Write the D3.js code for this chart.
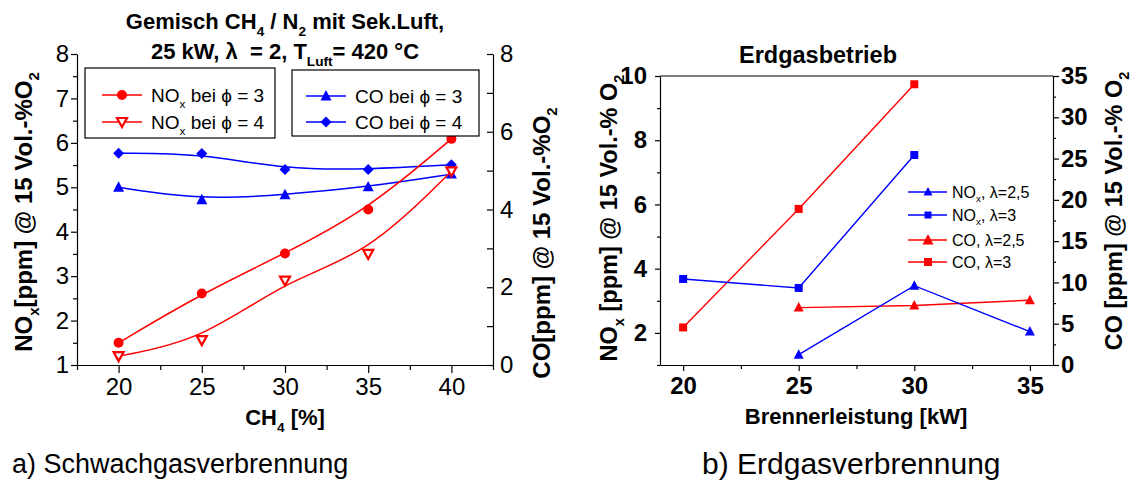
<!DOCTYPE html>
<html>
<head>
<meta charset="utf-8">
<script src="https://cdn.jsdelivr.net/npm/d3@7"></script>
<style>
  body { margin: 0; background: #fff; }
  svg { display: block; font-family: "Liberation Sans", Arial, sans-serif; }
  .axis path, .axis line { stroke: #000; stroke-width: 1.2; }
  .axis text { fill: #000; }
</style>
</head>
<body>
<svg width="1135" height="481"></svg>
<script>
// ---- data: left chart (Schwachgas) ----
var ch4 = [20, 25, 30, 35, 40];
var noxPhi3 = [1.5, 2.61, 3.51, 4.5, 6.09];
var noxPhi4 = [1.2, 1.56, 2.9, 3.5, 5.36];
var coPhi3 = [4.57, 4.25, 4.38, 4.58, 4.91];   // right axis
var coPhi4 = [5.45, 5.44, 5.03, 5.03, 5.15];   // right axis
var leftXTicks = [20, 25, 30, 35, 40];
var leftYTicks = [1, 2, 3, 4, 5, 6, 7, 8];
var leftY2Ticks = [0, 2, 4, 6, 8];

// ---- data: right chart (Erdgas) ----
var leistung = [20, 25, 30, 35];
var noxL25 = [null, 1.32, 3.47, 2.04];
var noxL3 = [3.68, 3.40, 7.54, null];
var coL25 = [null, 6.95, 7.2, 7.85];           // right axis
var coL3 = [4.55, 18.9, 34.0, null];           // right axis
var rightXTicks = [20, 25, 30, 35];
var rightYTicks = [2, 4, 6, 8, 10];
var rightY2Ticks = [0, 5, 10, 15, 20, 25, 30, 35];

var RED = "#ff0000", BLUE = "#0000ff";
var fmt = d3.format("d");
var svg = d3.select("svg");

// text with subscripts: parts = ["NO", {sub:"x"}, "[ppm]"]
function rich(t, parts, fs) {
    var prevSub = false;
    parts.forEach(function(p) {
        if (typeof p === "string") {
            var ts = t.append("tspan").text(p);
            if (prevSub) ts.attr("dy", -fs * 0.3);
            prevSub = false;
        } else {
            t.append("tspan").attr("font-size", fs * 0.62).attr("dy", fs * 0.3).text(p.sub);
            prevSub = true;
        }
    });
    return t;
}

function marker(g, type, x, y, color, s) {
    var p;
    if (type == "circle") {
        g.append("circle").attr("cx", x).attr("cy", y).attr("r", s / 2).attr("fill", color);
        return;
    }
    if (type == "triUp") p = "M0," + (-s * 0.55) + "L" + (s / 2) + "," + (s * 0.4) + "L" + (-s / 2) + "," + (s * 0.4) + "Z";
    if (type == "triDown") p = "M0," + (s * 0.5) + "L" + (s / 2) + "," + (-s * 0.4) + "L" + (-s / 2) + "," + (-s * 0.4) + "Z";
    if (type == "diamond") p = "M0," + (-s / 2) + "L" + (s / 2) + ",0L0," + (s / 2) + "L" + (-s / 2) + ",0Z";
    if (type == "square") p = "M" + (-s / 2) + "," + (-s / 2) + "h" + s + "v" + s + "h" + (-s) + "Z";
    var m = g.append("path").attr("d", p).attr("transform", "translate(" + x + "," + y + ")");
    if (type == "triDown") m.attr("fill", "#fff").attr("stroke", color).attr("stroke-width", 2.2);
    else m.attr("fill", color);
}

function minors(from, to, step) {
    var a = [];
    for (var v = from; v <= to + 1e-9; v += step) a.push(v);
    return a;
}

// =================== left chart ===================
var lx = d3.scaleLinear().domain([17.5, 42.5]).range([77, 493]);
var ly = d3.scaleLinear().domain([1, 8]).range([365, 54]);
var ly2 = d3.scaleLinear().domain([0, 8]).range([365, 54]);

var gl = svg.append("g");

gl.append("g").attr("class", "axis").attr("transform", "translate(0,365)")
    .call(d3.axisBottom(lx).tickValues(leftXTicks).tickFormat(fmt).tickSize(8).tickPadding(5).tickSizeOuter(0))
    .selectAll("text").attr("font-size", 24);
gl.append("g").attr("class", "axis").attr("transform", "translate(0,365)")
    .call(d3.axisBottom(lx).tickValues(minors(17.5, 42.5, 5)).tickSize(5).tickFormat(""))
    .select(".domain").remove();

gl.append("g").attr("class", "axis").attr("transform", "translate(77,0)")
    .call(d3.axisLeft(ly).tickValues(leftYTicks).tickFormat(fmt).tickSize(6).tickPadding(2).tickSizeOuter(0))
    .selectAll("text").attr("font-size", 24);
gl.append("g").attr("class", "axis").attr("transform", "translate(77,0)")
    .call(d3.axisLeft(ly).tickValues(minors(1.5, 7.5, 1)).tickSize(4).tickFormat(""))
    .select(".domain").remove();

gl.append("g").attr("class", "axis").attr("transform", "translate(493,0)")
    .call(d3.axisRight(ly2).tickValues(leftY2Ticks).tickFormat(fmt).tickSize(-6).tickPadding(7).tickSizeOuter(0))
    .selectAll("text").attr("font-size", 24);
gl.append("g").attr("class", "axis").attr("transform", "translate(493,0)")
    .call(d3.axisRight(ly2).tickValues([1, 3, 5, 7]).tickSize(-6).tickFormat(""))
    .select(".domain").remove();

// curves (B-spline like Origin)
var basisL = d3.line().curve(d3.curveBasis)
    .x(function(d) { return lx(d[0]); }).y(function(d) { return ly(d[1]); });
var basisR = d3.line().curve(d3.curveBasis)
    .x(function(d) { return lx(d[0]); }).y(function(d) { return ly2(d[1]); });

var leftSeries = [
    { vals: coPhi4, color: BLUE, type: "diamond", size: 11, line: basisR, y: ly2 },
    { vals: coPhi3, color: BLUE, type: "triUp", size: 11, line: basisR, y: ly2 },
    { vals: noxPhi3, color: RED, type: "circle", size: 10, line: basisL, y: ly },
    { vals: noxPhi4, color: RED, type: "triDown", size: 10, line: basisL, y: ly }
];
leftSeries.forEach(function(s) {
    var pts = ch4.map(function(c, i) { return [c, s.vals[i]]; });
    gl.append("path").attr("d", s.line(pts)).attr("fill", "none")
        .attr("stroke", s.color).attr("stroke-width", 1.5);
    pts.forEach(function(p) { marker(gl, s.type, lx(p[0]), s.y(p[1]), s.color, s.size); });
});

// legends
gl.append("rect").attr("x", 85).attr("y", 68).attr("width", 190).attr("height", 70)
    .attr("fill", "#fff").attr("stroke", "#000").attr("stroke-width", 1.2);
gl.append("rect").attr("x", 292).attr("y", 70).attr("width", 187).attr("height", 66)
    .attr("fill", "#fff").attr("stroke", "#000").attr("stroke-width", 1.2);

var leftLegend = [
    { x: 102, y: 95, color: RED, type: "circle", size: 10, parts: ["NO", { sub: "x" }, " bei \u03d5 = 3"] },
    { x: 102, y: 122, color: RED, type: "triDown", size: 10, parts: ["NO", { sub: "x" }, " bei \u03d5 = 4"] },
    { x: 306, y: 96, color: BLUE, type: "triUp", size: 11, parts: ["CO bei \u03d5 = 3"] },
    { x: 306, y: 122, color: BLUE, type: "diamond", size: 11, parts: ["CO bei \u03d5 = 4"] }
];
leftLegend.forEach(function(e) {
    gl.append("line").attr("x1", e.x).attr("x2", e.x + 40).attr("y1", e.y).attr("y2", e.y)
        .attr("stroke", e.color).attr("stroke-width", 1.5);
    marker(gl, e.type, e.x + 20, e.y, e.color, e.size);
    rich(gl.append("text").attr("x", e.x + 49).attr("y", e.y + 7).attr("font-size", 19), e.parts, 19);
});

// titles & labels
rich(gl.append("text").attr("x", 285).attr("y", 29).attr("text-anchor", "middle")
    .attr("font-size", 22).attr("font-weight", "bold"),
    ["Gemisch CH", { sub: "4" }, " / N", { sub: "2" }, " mit Sek.Luft,"], 22);
rich(gl.append("text").attr("x", 285).attr("y", 59).attr("text-anchor", "middle")
    .attr("font-size", 22).attr("font-weight", "bold"),
    ["25 kW, \u03bb\u00a0 = 2, T", { sub: "Luft" }, "= 420 \u00b0C"], 22);

rich(gl.append("text").attr("x", 285).attr("y", 425).attr("text-anchor", "middle")
    .attr("font-size", 22).attr("font-weight", "bold"),
    ["CH", { sub: "4" }, " [%]"], 22);

rich(gl.append("text").attr("transform", "translate(32,212) rotate(-90)").attr("text-anchor", "middle")
    .attr("font-size", 24).attr("font-weight", "bold"),
    ["NO", { sub: "x" }, "[ppm] @ 15 Vol.-%O", { sub: "2" }], 24);
rich(gl.append("text").attr("transform", "translate(550,243) rotate(-90)").attr("text-anchor", "middle")
    .attr("font-size", 24).attr("font-weight", "bold"),
    ["CO[ppm] @ 15 Vol.-%O", { sub: "2" }], 24);

// =================== right chart ===================
var rx = d3.scaleLinear().domain([19, 36]).range([660, 1053]);
var ry = d3.scaleLinear().domain([1, 10]).range([365, 76]);
var ry2 = d3.scaleLinear().domain([0, 35]).range([365, 76]);

var gr = svg.append("g");

gr.append("g").attr("class", "axis").attr("transform", "translate(0,365)")
    .call(d3.axisBottom(rx).tickValues(rightXTicks).tickFormat(fmt).tickSize(6).tickPadding(6).tickSizeOuter(0))
    .selectAll("text").attr("font-size", 24).attr("font-weight", "bold");
gr.append("g").attr("class", "axis").attr("transform", "translate(0,365)")
    .call(d3.axisBottom(rx).tickValues([22.5, 27.5, 32.5]).tickSize(4).tickFormat(""))
    .select(".domain").remove();

gr.append("g").attr("class", "axis").attr("transform", "translate(660,0)")
    .call(d3.axisLeft(ry).tickValues(rightYTicks).tickFormat(fmt).tickSize(5).tickPadding(8).tickSizeOuter(0))
    .selectAll("text").attr("font-size", 24).attr("font-weight", "bold");
gr.append("g").attr("class", "axis").attr("transform", "translate(660,0)")
    .call(d3.axisLeft(ry).tickValues([1, 3, 5, 7, 9]).tickSize(3).tickFormat(""))
    .select(".domain").remove();

gr.append("g").attr("class", "axis").attr("transform", "translate(1053,0)")
    .call(d3.axisRight(ry2).tickValues(rightY2Ticks).tickFormat(fmt).tickSize(6).tickPadding(2).tickSizeOuter(0))
    .selectAll("text").attr("font-size", 24).attr("font-weight", "bold");
gr.append("g").attr("class", "axis").attr("transform", "translate(1053,0)")
    .call(d3.axisRight(ry2).tickValues(minors(2.5, 32.5, 5)).tickSize(3).tickFormat(""))
    .select(".domain").remove();

gr.append("line").attr("x1", 660).attr("x2", 1053).attr("y1", 76).attr("y2", 76)
    .attr("stroke", "#000").attr("stroke-width", 1.2);

var rightSeries = [
    { vals: coL3, color: RED, type: "square", size: 8, y: ry2 },
    { vals: coL25, color: RED, type: "triUp", size: 10, y: ry2 },
    { vals: noxL3, color: BLUE, type: "square", size: 8, y: ry },
    { vals: noxL25, color: BLUE, type: "triUp", size: 10, y: ry }
];
rightSeries.forEach(function(s) {
    var pts = leistung.map(function(c, i) { return [c, s.vals[i]]; });
    var line = d3.line().defined(function(d) { return d[1] != null; })
        .x(function(d) { return rx(d[0]); }).y(function(d) { return s.y(d[1]); });
    gr.append("path").attr("d", line(pts)).attr("fill", "none")
        .attr("stroke", s.color).attr("stroke-width", 1.4);
    pts.forEach(function(p) {
        if (p[1] != null) marker(gr, s.type, rx(p[0]), s.y(p[1]), s.color, s.size);
    });
});

var rightLegend = [
    { y: 192, color: BLUE, type: "triUp", size: 9, parts: ["NO", { sub: "x" }, ", \u03bb=2,5"] },
    { y: 215, color: BLUE, type: "square", size: 7, parts: ["NO", { sub: "x" }, ", \u03bb=3"] },
    { y: 240, color: RED, type: "triUp", size: 11, parts: ["CO, \u03bb=2,5"] },
    { y: 262, color: RED, type: "square", size: 8, parts: ["CO, \u03bb=3"] }
];
rightLegend.forEach(function(e) {
    gr.append("line").attr("x1", 908).attr("x2", 947).attr("y1", e.y).attr("y2", e.y)
        .attr("stroke", e.color).attr("stroke-width", 1.4);
    marker(gr, e.type, 928, e.y, e.color, e.size);
    rich(gr.append("text").attr("x", 952).attr("y", e.y + 5.5).attr("font-size", 16), e.parts, 16);
});

gr.append("text").attr("x", 818).attr("y", 63).attr("text-anchor", "middle")
    .attr("font-size", 23.5).attr("font-weight", "bold").text("Erdgasbetrieb");
gr.append("text").attr("x", 856).attr("y", 424).attr("text-anchor", "middle")
    .attr("font-size", 22).attr("font-weight", "bold").text("Brennerleistung [kW]");

rich(gr.append("text").attr("transform", "translate(617,218) rotate(-90)").attr("text-anchor", "middle")
    .attr("font-size", 23.5).attr("font-weight", "bold"),
    ["NO", { sub: "x" }, " [ppm] @ 15 Vol.-% O", { sub: "2" }], 23.5);
rich(gr.append("text").attr("transform", "translate(1122,211) rotate(-90)").attr("text-anchor", "middle")
    .attr("font-size", 23.5).attr("font-weight", "bold"),
    ["CO [ppm] @ 15 Vol.-% O", { sub: "2" }], 23.5);

// captions
svg.append("text").attr("x", 12).attr("y", 473).attr("font-size", 27).text("a) Schwachgasverbrennung");
svg.append("text").attr("x", 702).attr("y", 474).attr("font-size", 30).text("b) Erdgasverbrennung");
</script>
</body>
</html>
